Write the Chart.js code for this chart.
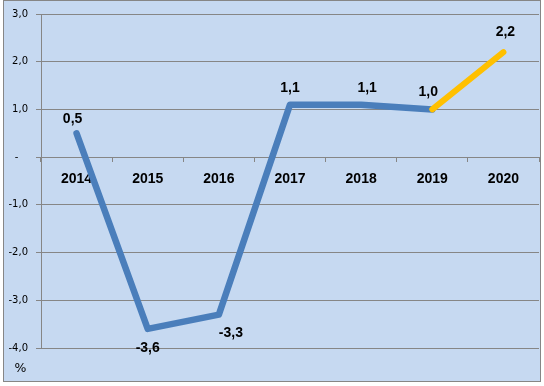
<!DOCTYPE html>
<html>
<head>
<meta charset="utf-8">
<script src="https://cdn.jsdelivr.net/npm/chart.js@4/dist/chart.umd.min.js"></script>
<style>
  html, body { margin: 0; padding: 0; background: #fff; }
  canvas { display: block; }
</style>
</head>
<body>
<canvas id="chart" width="544" height="386"></canvas>
<script>
// data
const years = ['2014', '2015', '2016', '2017', '2018', '2019', '2020'];
const actual = [0.5, -3.6, -3.3, 1.1, 1.1, 1.0, null];
const forecast = [null, null, null, null, null, 1.0, 2.2];
const yMin = -4;
const yMax = 3;
const unitLabel = '%';

const fmt = v => v.toFixed(1).replace('.', ',');

// label nudges (px) so they sit where the original put them
const labelShift = [
  [-4, -14], [0, 19], [12, 19], [0, -17], [6, -17], [-4, -17], [2, -20]
];

const frame = {
  id: 'frame',
  beforeDraw(chart) {
    const ctx = chart.ctx;
    ctx.save();
    ctx.fillStyle = '#ffffff';
    ctx.fillRect(0, 0, chart.width, chart.height);
    ctx.fillStyle = '#C6D9F1';
    ctx.fillRect(3, 0, 538, 382);
    ctx.strokeStyle = '#868686';
    ctx.lineWidth = 1;
    ctx.strokeRect(3.5, 0.5, 537, 381);
    ctx.restore();
  },
  afterDraw(chart) {
    const ctx = chart.ctx;
    ctx.save();
    ctx.fillStyle = '#000';
    ctx.font = '12.5px "DejaVu Sans"';
    ctx.textAlign = 'center';
    ctx.textBaseline = 'middle';
    ctx.fillText(unitLabel, 20.5, 369);
    ctx.restore();
  }
};

const valueLabels = {
  id: 'valueLabels',
  afterDatasetsDraw(chart) {
    const ctx = chart.ctx;
    const x = chart.scales.x, y = chart.scales.y;
    ctx.save();
    ctx.fillStyle = '#000';
    ctx.font = 'bold 14px "Liberation Sans"';
    ctx.textAlign = 'center';
    ctx.textBaseline = 'middle';
    years.forEach((yr, i) => {
      const v = actual[i] !== null ? actual[i] : forecast[i];
      if (v === null) return;
      const px = x.getPixelForValue(i) + labelShift[i][0];
      const py = y.getPixelForValue(v) + labelShift[i][1];
      ctx.fillText(fmt(v), px, py);
    });
    ctx.restore();
  }
};

new Chart(document.getElementById('chart'), {
  type: 'line',
  data: {
    labels: years,
    datasets: [
      {
        data: actual,
        borderColor: '#4A7EBB',
        borderWidth: 6.5,
        borderCapStyle: 'round',
        borderJoinStyle: 'round',
        pointRadius: 0,
        tension: 0,
        order: 2
      },
      {
        data: forecast,
        borderColor: '#FFC000',
        borderWidth: 6,
        borderCapStyle: 'round',
        pointRadius: 0,
        tension: 0,
        order: 1
      }
    ]
  },
  options: {
    responsive: false,
    animation: false,
    events: [],
    layout: { padding: { left: 0, top: 11, right: 5, bottom: 38 } },
    plugins: { legend: { display: false }, tooltip: { enabled: false } },
    scales: {
      x: {
        position: { y: 0 },
        offset: true,
        border: { display: false },
        grid: {
          offset: true,
          drawOnChartArea: false,
          tickLength: 5,
          color: '#868686'
        },
        ticks: {
          padding: 9,
          color: '#000',
          maxRotation: 0,
          font: { family: 'Liberation Sans', size: 14, weight: 'bold' }
        }
      },
      y: {
        min: yMin,
        max: yMax,
        afterFit(scale) { scale.width = 41; },
        border: { display: true, color: '#868686' },
        grid: { color: '#868686', tickLength: 5 },
        ticks: {
          stepSize: 1,
          padding: 8,
          color: '#000',
          font: { family: 'DejaVu Sans', size: 10 },
          callback: v => (v === 0 ? '-   ' : fmt(v))
        }
      }
    }
  },
  plugins: [frame, valueLabels]
});
</script>
</body>
</html>
